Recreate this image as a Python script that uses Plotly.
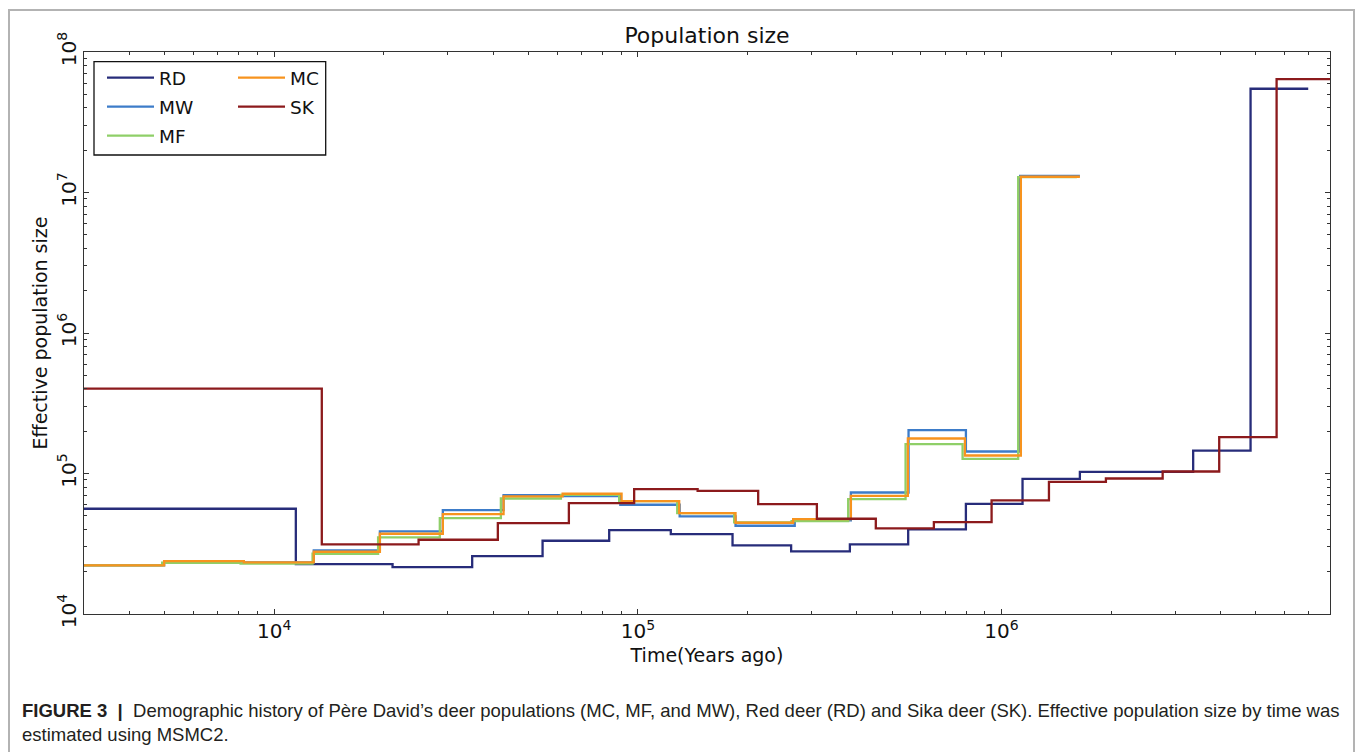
import math
import plotly.graph_objects as go

# ---- data (step boundaries in years ago, Ne per interval) ----
rd_time = [2500, 11470, 21160, 35030, 54700, 83400, 123200, 182100, 263900, 382800,
           553700, 797900, 1142000, 1642000, 3364000, 4838000, 6970000]
rd_ne = [56100, 22680, 21590, 25850, 33210, 39570, 37070, 30750, 27880, 31260,
         39960, 60880, 91680, 102800, 145700, 54740000]

mw_time = [2500, 4982, 8253, 12850, 19530, 29090, 42730, 62100, 89500, 130300,
           185600, 270000, 385200, 555000, 798000, 1125000, 1642000]
mw_ne = [22200, 23700, 23250, 28340, 38680, 54920, 70190, 69060, 59910, 49450,
         42460, 46310, 73260, 203600, 143400, 13100000]

mf_time = [2500, 4920, 8085, 12750, 19310, 28540, 42010, 61440, 88830, 128300,
           184000, 264600, 378700, 544600, 781400, 1111000, 1611000]
mf_ne = [22160, 23170, 22800, 26850, 35050, 48170, 66410, 70540, 63650, 52290,
         44820, 45860, 65760, 161900, 127200, 12850000]

mc_time = [2500, 4982, 8253, 12850, 19530, 29090, 42730, 62100, 90200, 129900,
           185600, 267300, 385200, 552600, 793000, 1130000, 1642000]
mc_ne = [22160, 23820, 23280, 27740, 37250, 51430, 68630, 71730, 63650, 52290,
         44610, 47390, 69390, 177400, 134300, 12950000]

sk_time = [2500, 13520, 24950, 41210, 64610, 97680, 146000, 214200, 310600, 451100,
           651500, 938900, 1350000, 1936000, 2773000, 3967000, 5705000, 9000000]
sk_ne = [402200, 31260, 33770, 44380, 61580, 77450, 75340, 60580, 47620, 40630,
         45110, 64270, 87300, 92130, 103300, 181500, 64160000]

series = [
    ("RD", rd_time, rd_ne, "#272c7a", "legend"),
    ("MW", mw_time, mw_ne, "#3d7cc9", "legend"),
    ("MF", mf_time, mf_ne, "#8fcf68", "legend"),
    ("MC", mc_time, mc_ne, "#f7931e", "legend2"),
    ("SK", sk_time, sk_ne, "#8c1a1c", "legend2"),
]

FONT = "DejaVu Sans, Liberation Sans, sans-serif"
CAPFONT = "Liberation Sans Narrow, Arial Narrow, Liberation Sans, sans-serif"

fig = go.Figure()
for name, t, ne, color, leg in series:
    fig.add_trace(go.Scatter(
        x=t, y=list(ne) + [ne[-1]], name=name, mode="lines",
        line=dict(color=color, width=2.3, shape="hv"),
        legend=leg, legendgroup=name,
    ))

W, H = 1357, 752
ML, MR, MT, MB = 84, 27, 52, 138
PW, PH = W - ML - MR, H - MT - MB

def px_x(p):
    return (p - ML) / PW

def px_y(p):
    return (H - MB - p) / PH

axis_common = dict(
    type="log", dtick=1, exponentformat="power", showexponent="all",
    ticks="inside", ticklen=5, tickwidth=1, tickcolor="#333",
    showline=True, linecolor="#333", linewidth=1.4, mirror="ticks",
    showgrid=False, zeroline=False,
    tickfont=dict(family=FONT, size=16, color="#111"),
    minor=dict(ticks="inside", ticklen=3, tickcolor="#333", dtick="D1", showgrid=False),
)

legend_common = dict(
    xanchor="left", yanchor="top", bgcolor="rgba(0,0,0,0)", borderwidth=0,
    tracegroupgap=2, traceorder="grouped", itemwidth=47,
    font=dict(family=FONT, size=18.5, color="#111"),
)

fig.update_layout(
    width=W, height=H,
    margin=dict(l=ML, r=MR, t=MT, b=MB),
    paper_bgcolor="white", plot_bgcolor="white",
    font=dict(family=FONT, size=16, color="#111"),
    title=dict(text="Population size", x=0.5, xref="paper", xanchor="center",
               y=1 - 35 / H, yanchor="middle", font=dict(family=FONT, size=22, color="#111")),
    xaxis=dict(axis_common, range=[math.log10(3000), math.log10(8e6)],
               title=dict(text="Time(Years ago)", standoff=6,
                          font=dict(family=FONT, size=19, color="#111"))),
    yaxis=dict(axis_common, range=[4, 8], tickangle=-90,
               title=dict(text="Effective population size", standoff=1,
                          font=dict(family=FONT, size=19, color="#111"))),
    showlegend=True,
    legend=dict(legend_common, x=px_x(102), y=px_y(59)),
    legend2=dict(legend_common, x=px_x(233), y=px_y(59)),
    shapes=[
        # legend frame
        dict(type="rect", xref="paper", yref="paper", layer="below",
             x0=px_x(94), x1=px_x(325.7), y0=px_y(155), y1=px_y(61.7),
             line=dict(color="#111", width=1.3), fillcolor="white"),
        # outer figure frame
        dict(type="rect", xref="paper", yref="paper", layer="below",
             x0=px_x(9), x1=px_x(1354), y0=px_y(780), y1=px_y(10),
             line=dict(color="#b3b3b3", width=2), fillcolor="rgba(0,0,0,0)"),
    ],
    annotations=[
        dict(xref="paper", yref="paper", x=px_x(20), y=px_y(698),
             xanchor="left", yanchor="top", align="left", showarrow=False,
             text="<b>FIGURE 3</b>  <b>|</b>  Demographic history of Père David’s deer populations (MC, MF, and MW), "
                  "Red deer (RD) and Sika deer (SK). Effective population size by time was<br>"
                  "estimated using MSMC2.",
             font=dict(family=CAPFONT, size=18.5, color="#231f20")),
    ],
)

fig.write_html("out.html")
